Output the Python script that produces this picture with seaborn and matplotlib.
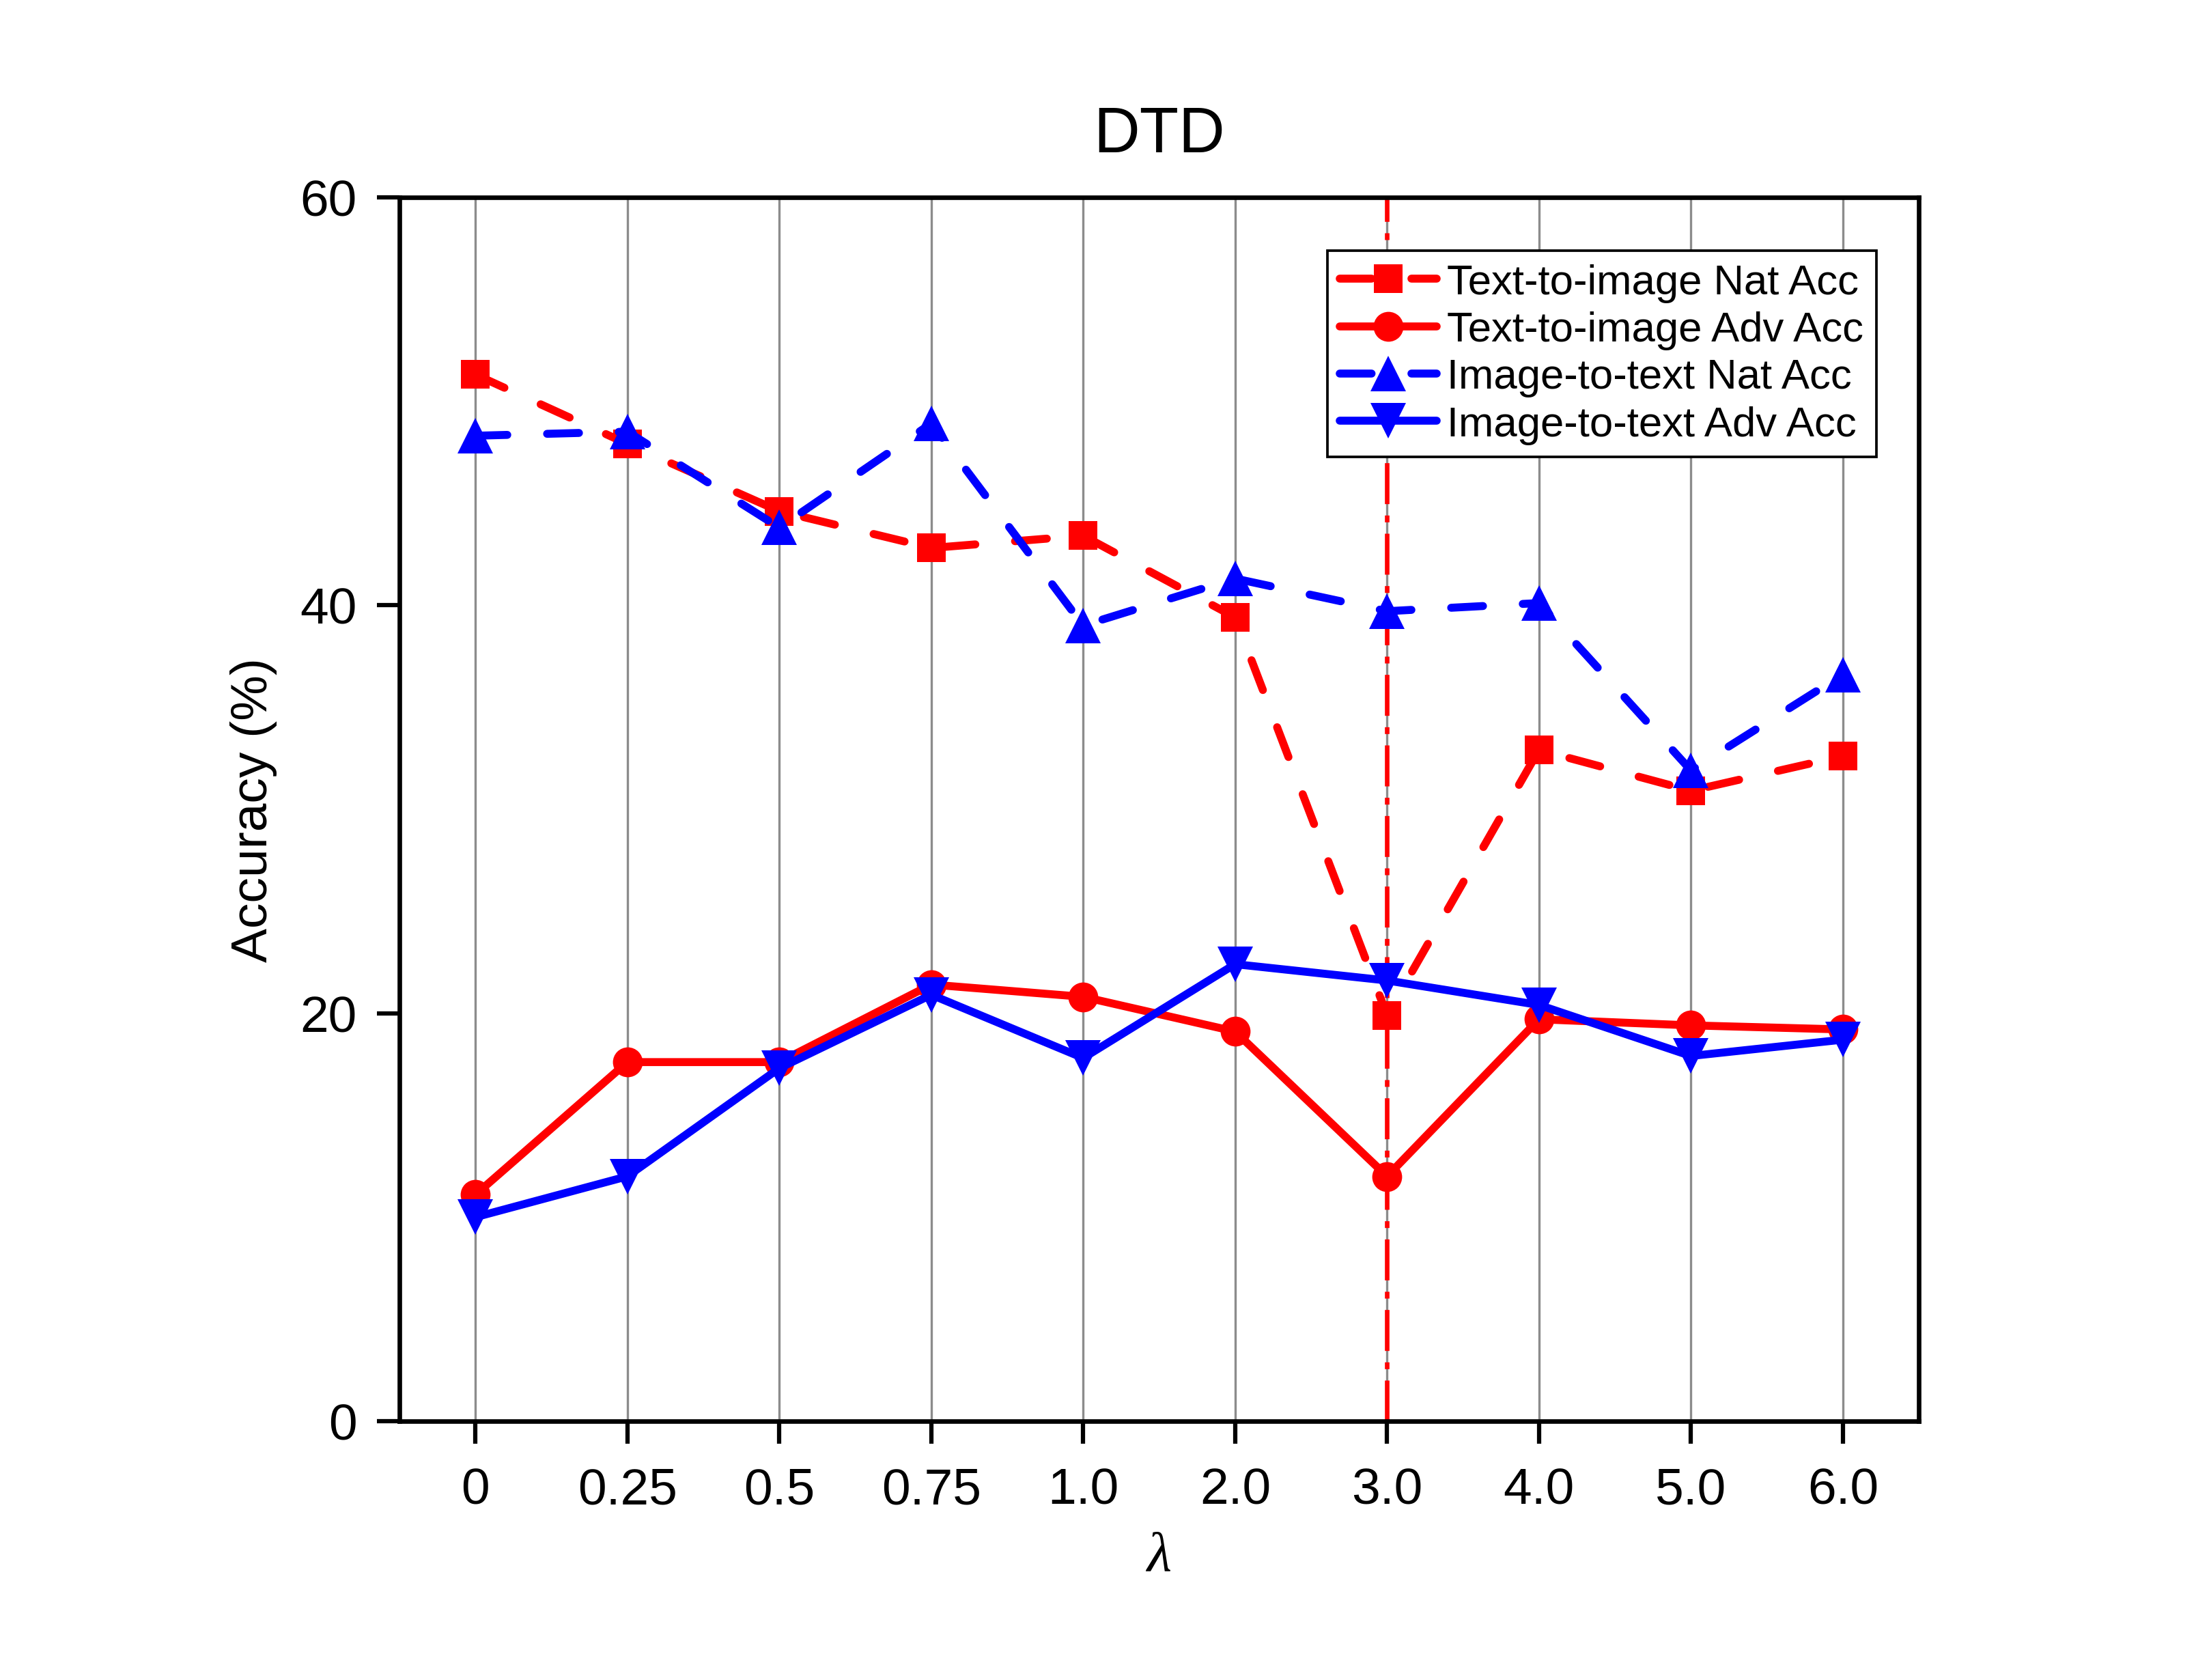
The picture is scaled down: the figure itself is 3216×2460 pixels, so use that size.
import matplotlib
matplotlib.use("Agg")
import matplotlib.pyplot as plt
import seaborn as sns
import numpy as np

# ---- data ----
lambda_labels = ["0", "0.25", "0.5", "0.75", "1.0", "2.0", "3.0", "4.0", "5.0", "6.0"]
t2i_nat = [51.3, 47.9, 44.6, 42.8, 43.4, 39.4, 19.9, 32.9, 30.9, 32.6]
t2i_adv = [11.1, 17.6, 17.6, 21.4, 20.8, 19.1, 12.0, 19.7, 19.4, 19.2]
i2t_nat = [48.3, 48.5, 43.8, 48.9, 39.0, 41.3, 39.7, 40.1, 31.9, 36.6]
i2t_adv = [10.0, 12.0, 17.3, 20.9, 17.8, 22.4, 21.6, 20.4, 17.9, 18.7]
series_names = ["Text-to-image Nat Acc", "Text-to-image Adv Acc",
                "Image-to-text Nat Acc", "Image-to-text Adv Acc"]
highlight_label = "3.0"
yticks = [0, 20, 40, 60]

sns.set_style("ticks")
plt.rcParams["font.family"] = ["Liberation Sans", "DejaVu Sans"]
plt.rcParams["text.color"] = "black"
plt.rcParams["axes.labelcolor"] = "black"

fig = plt.figure(figsize=(10.72, 8.203), dpi=300)
ax = fig.add_axes([0.1819, 0.154, 0.8738 - 0.1819, 0.8824 - 0.154])

x = np.arange(len(lambda_labels))
lw = 2.8
styles = [
    dict(y=t2i_nat, color="#ff0000", marker="s", ms=10, dashed=True),
    dict(y=t2i_adv, color="#ff0000", marker="o", ms=10.5, dashed=False),
    dict(y=i2t_nat, color="#0000ff", marker="^", ms=12.5, dashed=True),
    dict(y=i2t_adv, color="#0000ff", marker="v", ms=12.5, dashed=False),
]
for name, st in zip(series_names, styles):
    line_kw = dict(linestyle=(0, (4.0, 5.0)) if st["dashed"] else "-")
    sns.lineplot(x=x, y=st["y"], ax=ax, color=st["color"], marker=st["marker"],
                 markersize=st["ms"], markeredgewidth=0, linewidth=lw,
                 label=name, dash_capstyle="round", solid_joinstyle="miter",
                 **line_kw)

# vertical grid lines
for xi in x:
    ax.axvline(xi, color="#8c8c8c", lw=0.8, zorder=0)
# highlight line at lambda = 3.0
ax.axvline(lambda_labels.index(highlight_label), color="#ff0000", lw=1.6,
           linestyle=(0, (9, 2.5, 1.5, 2.5)), zorder=1)

ax.set_xlim(-0.5, len(lambda_labels) - 0.5)
ax.set_ylim(0, 60)
ax.set_xticks(x)
ax.set_xticklabels(lambda_labels)
ax.set_yticks(yticks)
ax.tick_params(axis="both", direction="out", length=8, width=1.5,
               labelsize=18, colors="black")
ax.tick_params(axis="x", pad=8)
ax.tick_params(axis="y", pad=7)
for sp in ax.spines.values():
    sp.set_visible(True)
    sp.set_linewidth(1.6)
    sp.set_color("black")

ax.set_title("DTD", fontsize=22.5, pad=16, color="black")
ax.set_ylabel("Accuracy (%)", fontsize=18, labelpad=8)
ax.set_xlabel("λ", fontsize=20, family=["Liberation Serif", "DejaVu Serif"],
              style="italic", labelpad=6)

leg = ax.legend(loc="upper right", bbox_to_anchor=(0.972, 0.956), fontsize=14.8,
                frameon=True, fancybox=False, edgecolor="black", framealpha=1,
                handlelength=2.3, handletextpad=0.25, borderpad=0.3,
                labelspacing=0.2, borderaxespad=0)
leg.get_frame().set_linewidth(0.9)
for t in leg.get_texts():
    t.set_color("black")

fig.savefig("out.png", dpi=300)
